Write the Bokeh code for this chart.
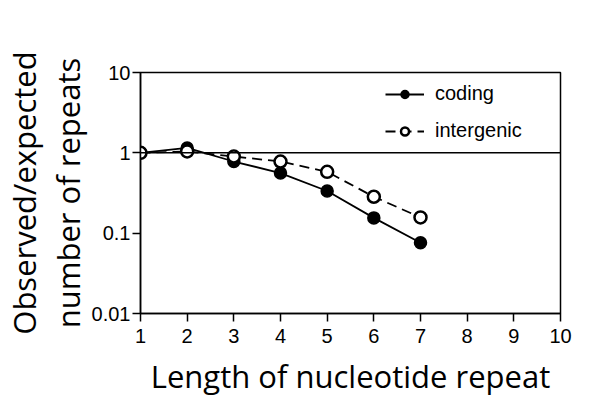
from bokeh.plotting import figure
from bokeh.models import Span, Legend, LegendItem, FixedTicker, Range1d, Title
from bokeh.embed import file_html
from bokeh.resources import INLINE

# Data
repeat_length = [1, 2, 3, 4, 5, 6, 7]
coding = [1.0, 1.15, 0.78, 0.56, 0.335, 0.155, 0.076]
intergenic = [1.0, 1.04, 0.90, 0.78, 0.58, 0.284, 0.157]
x_ticks = [1, 2, 3, 4, 5, 6, 7, 8, 9, 10]
y_ticks = [0.01, 0.1, 1, 10]
y_tick_labels = {0.01: "0.01", 0.1: "0.1", 1: "1", 10: "10"}
y_title_lines = ["Observed/expected", "number of repeats"]
x_title = "Length of nucleotide repeat"

W, H = 600, 414
p = figure(width=W, height=H, y_axis_type="log",
           x_range=Range1d(1, 10), y_range=Range1d(0.01, 10),
           output_backend="svg", toolbar_location=None,
           min_border_left=138, min_border_right=42,
           min_border_top=72, min_border_bottom=101)
p.frame_width = 420
p.frame_height = 241
p.grid.visible = False
p.background_fill_color = "white"
p.border_fill_color = "white"
p.outline_line_color = "black"
p.outline_line_width = 1.5

tick_font = "Liberation Sans"
title_font = "Open Sans"

p.xaxis.ticker = FixedTicker(ticks=x_ticks)
p.yaxis.ticker = FixedTicker(ticks=y_ticks)
p.yaxis.major_label_overrides = y_tick_labels
for ax in (p.xaxis, p.yaxis):
    ax.axis_line_width = 1.5
    ax.axis_line_color = "black"
    ax.major_tick_in = 0
    ax.major_tick_out = 8
    ax.major_tick_line_width = 1.5
    ax.minor_tick_line_color = None
    ax.major_label_text_font = tick_font
    ax.major_label_text_font_size = "20px"
    ax.major_label_text_color = "black"
    ax.axis_label_text_font = title_font
    ax.axis_label_text_font_size = "31px"
    ax.axis_label_text_font_style = "normal"
    ax.axis_label_text_color = "black"
p.xaxis.major_label_standoff = 7
p.yaxis.major_label_standoff = 2
p.xaxis.axis_label = x_title
p.xaxis.axis_label_standoff = 9

# two-line y title as two stacked left titles (inner line first)
for line in reversed(y_title_lines):
    t = Title(text=line, align="center", text_font=title_font,
              text_font_size="31px", text_font_style="normal",
              text_color="black", standoff=0, offset=0)
    p.add_layout(t, "left")

ref = Span(location=1, dimension="width", line_color="black", line_width=1.5)
p.add_layout(ref)

l1 = p.line(repeat_length, coding, line_color="black", line_width=1.8)
c1 = p.scatter(repeat_length, coding, size=12, marker="circle",
               fill_color="black", line_color="black", line_width=1.5)
l2 = p.line(repeat_length, intergenic, line_color="black", line_width=1.8,
            line_dash="10 6")
c2 = p.scatter(repeat_length, intergenic, size=12, marker="circle",
               fill_color="white", line_color="black", line_width=2.5)

legend = Legend(items=[LegendItem(label="coding", renderers=[l1, c1]),
                       LegendItem(label="intergenic", renderers=[l2, c2])],
                location=(245, 171))
legend.glyph_width = 39
legend.glyph_height = 20
legend.label_height = 20
legend.spacing = 14
legend.padding = 0
legend.margin = 0
legend.label_standoff = 11
legend.border_line_alpha = 0
legend.background_fill_alpha = 0
legend.label_text_font = tick_font
legend.label_text_font_size = "20px"
legend.label_text_color = "black"
p.add_layout(legend)

open("out.html", "w").write(file_html(p, INLINE))
